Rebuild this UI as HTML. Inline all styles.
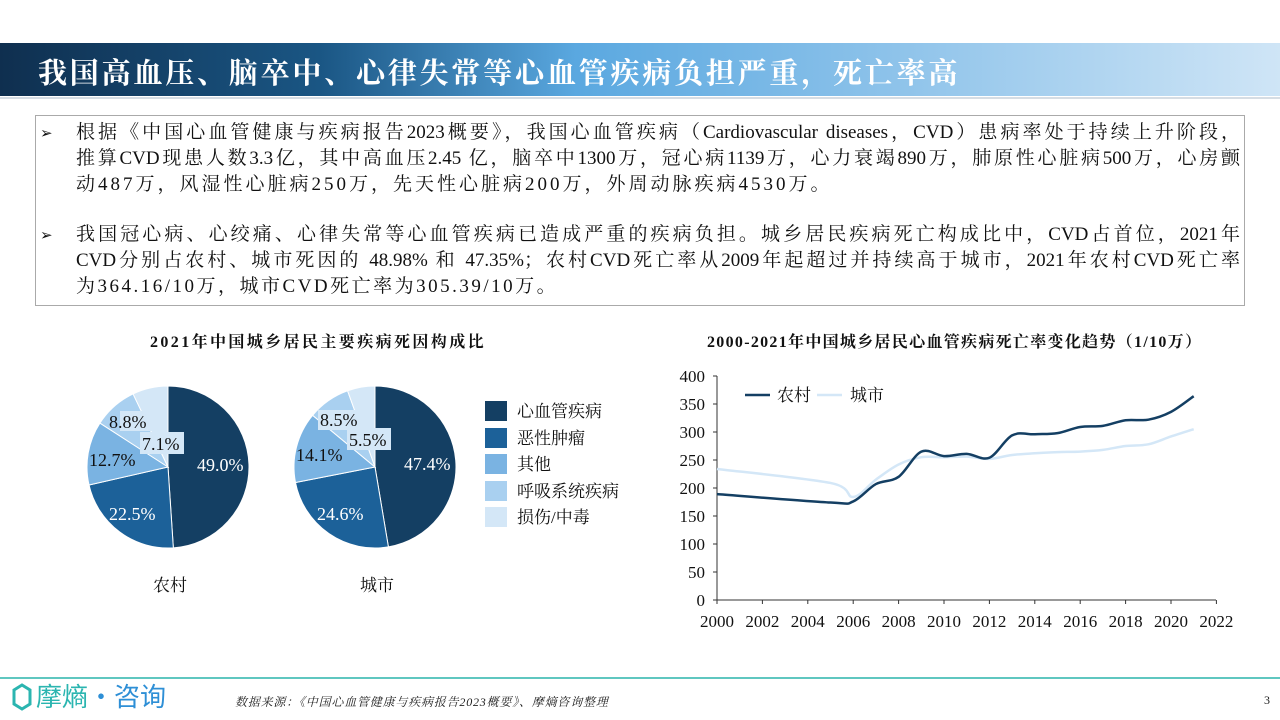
<!DOCTYPE html>
<html lang="zh"><head><meta charset="utf-8">
<style>
body{margin:0;width:1280px;height:720px;overflow:hidden;background:#fff;position:relative;font-family:"Liberation Serif","Noto Serif CJK SC",serif;}
.band{position:absolute;left:0;top:43px;width:1280px;height:53px;background:linear-gradient(90deg,#0f2f4f 0%,#1a5684 25%,#5aa8e0 45%,#8ec3ea 70%,#cfe5f6 100%);}
.band div{position:absolute;left:38px;top:8px;color:#fff;font-size:29px;font-weight:bold;font-family:"Noto Serif CJK SC","Noto Sans CJK SC",serif;letter-spacing:2.8px;}
.bline{position:absolute;left:0;top:97px;width:1280px;height:2px;background:#d6dde4;}
.box{position:absolute;left:35px;top:115px;width:1208px;height:189px;border:1px solid #aaa;}
.p{position:absolute;left:40px;width:1200px;font-size:19px;line-height:26px;color:#111;}
.p span.ar{position:absolute;left:0;top:0;font-size:15px;font-family:"DejaVu Sans",sans-serif;}
.p .l{margin-left:36px;width:1164px;text-align:justify;text-align-last:justify;text-justify:inter-character;white-space:nowrap;}
.p .l.last{text-align-last:left;}
.ct{position:absolute;font-size:16px;font-weight:bold;color:#111;white-space:nowrap;}
.foot{position:absolute;left:0;top:677px;width:1280px;height:2px;background:#5fc7c0;}
</style></head><body>
<div class="band"><div>我国高血压、脑卒中、心律失常等心血管疾病负担严重，死亡率高</div></div>
<div class="bline"></div>
<div class="box"></div>
<div class="p" style="top:120px"><span class="ar">➢</span>
<div class="l">根据《中国心血管健康与疾病报告2023概要》，我国心血管疾病（Cardiovascular diseases，CVD）患病率处于持续上升阶段，</div>
<div class="l">推算CVD现患人数3.3亿，其中高血压2.45 亿，脑卒中1300万，冠心病1139万，心力衰竭890万，肺原性心脏病500万，心房颤</div>
<div class="l last" style="letter-spacing:3px">动487万，风湿性心脏病250万，先天性心脏病200万，外周动脉疾病4530万。</div></div>
<div class="p" style="top:222px"><span class="ar">➢</span>
<div class="l">我国冠心病、心绞痛、心律失常等心血管疾病已造成严重的疾病负担。城乡居民疾病死亡构成比中，CVD占首位，2021年</div>
<div class="l">CVD分别占农村、城市死因的 48.98% 和 47.35%；农村CVD死亡率从2009年起超过并持续高于城市，2021年农村CVD死亡率</div>
<div class="l last" style="letter-spacing:2.5px">为364.16/10万，城市CVD死亡率为305.39/10万。</div></div>

<div class="ct" style="left:150px;top:329px;letter-spacing:2.4px">2021年中国城乡居民主要疾病死因构成比</div>
<div class="ct" style="left:707px;top:329px;letter-spacing:1.3px">2000-2021年中国城乡居民心血管疾病死亡率变化趋势（1/10万）</div>

<svg width="1280" height="720" style="position:absolute;left:0;top:0" font-family="Liberation Serif, Noto Serif CJK SC, serif">
<g id="pies"></g>
<g font-size="18">
<rect x="120" y="411" width="32" height="20" fill="#d4e7f7"/>
<text x="109" y="428" fill="#111">8.8%</text>
<rect x="140" y="432" width="44" height="22" fill="#d4e7f7"/>
<text x="142" y="450" fill="#111">7.1%</text>
<text x="89" y="466" fill="#111">12.7%</text>
<text x="197" y="471" fill="#fff">49.0%</text>
<text x="109" y="520" fill="#fff">22.5%</text>
<rect x="318" y="410" width="44" height="20" fill="#d4e7f7"/>
<text x="320" y="426" fill="#111">8.5%</text>
<rect x="347" y="428" width="44" height="22" fill="#d4e7f7"/>
<text x="349" y="446" fill="#111">5.5%</text>
<text x="296" y="461" fill="#111">14.1%</text>
<text x="404" y="470" fill="#fff">47.4%</text>
<text x="317" y="520" fill="#fff">24.6%</text>
<text x="153" y="591" font-size="17" fill="#111">农村</text>
<text x="360" y="591" font-size="17" fill="#111">城市</text>
</g>
<g font-size="17" fill="#111">
<rect x="485" y="401" width="22" height="20" fill="#143f63"/><text x="517" y="417">心血管疾病</text>
<rect x="485" y="428" width="22" height="20" fill="#1c6199"/><text x="517" y="444">恶性肿瘤</text>
<rect x="485" y="454" width="22" height="20" fill="#7ab3e2"/><text x="517" y="470">其他</text>
<rect x="485" y="481" width="22" height="20" fill="#a9d0f0"/><text x="517" y="497">呼吸系统疾病</text>
<rect x="485" y="507" width="22" height="20" fill="#d4e7f7"/><text x="517" y="523">损伤/中毒</text>
</g>
<g id="axes" stroke="#333" stroke-width="1"></g>
<g font-size="17" fill="#111" text-anchor="end">
<text x="705" y="382">400</text><text x="705" y="410">350</text><text x="705" y="438">300</text><text x="705" y="466">250</text><text x="705" y="494">200</text><text x="705" y="522">150</text><text x="705" y="550">100</text><text x="705" y="578">50</text><text x="705" y="606">0</text>
</g>
<g id="xl" font-size="17" fill="#111" text-anchor="middle"></g>
<g id="lines" fill="none"></g>
<line x1="745" y1="395" x2="770" y2="395" stroke="#143f63" stroke-width="2.5"/>
<text x="777" y="401" font-size="17" fill="#111">农村</text>
<line x1="817" y1="395" x2="842" y2="395" stroke="#d4e7f7" stroke-width="2.5"/>
<text x="850" y="401" font-size="17" fill="#111">城市</text>
<g>
<path d="M14 690 l8 -5 l8 5 v14 l-8 5 l-8 -5z" fill="none" stroke="#2bb5b0" stroke-width="3"/>
<text x="36" y="706" font-size="26" font-family="Noto Sans CJK SC, sans-serif" fill="#2bb5b0">摩熵</text>
<text x="88" y="706" font-size="26" font-family="Noto Sans CJK SC, sans-serif" fill="#2e8fd6">·咨询</text>
</g>
<text x="235" y="706" font-size="12" font-style="italic" fill="#222" letter-spacing="0.8">数据来源：《中国心血管健康与疾病报告2023概要》、摩熵咨询整理</text>
<text x="1264" y="704" font-size="12" fill="#222">3</text>
</svg>
<div class="foot"></div>
<script>
var NS="http://www.w3.org/2000/svg";
function el(p,t,a){var e=document.createElementNS(NS,t);for(var k in a)e.setAttribute(k,a[k]);p.appendChild(e);return e;}
var cols=["#143f63","#1c6199","#7ab3e2","#a9d0f0","#d4e7f7"];
function pie(cx,cy,r,v){var g=document.getElementById("pies");var tot=v.reduce((a,b)=>a+b,0);var a0=0;
v.forEach(function(x,i){var a1=a0+x/tot*2*Math.PI;var x0=cx+r*Math.sin(a0),y0=cy-r*Math.cos(a0),x1=cx+r*Math.sin(a1),y1=cy-r*Math.cos(a1);
el(g,"path",{d:"M"+cx+" "+cy+"L"+x0+" "+y0+"A"+r+" "+r+" 0 "+((a1-a0)>Math.PI?1:0)+" 1 "+x1+" "+y1+"Z",fill:cols[i],stroke:"#fff","stroke-width":1});a0=a1;});}
pie(168,467,81,[49.0,22.5,12.7,8.8,7.1]);
pie(375,467,81,[47.4,24.6,14.1,8.5,5.5]);
var ax=document.getElementById("axes");
var X=y=>717+(y-2000)*22.7, Y=v=>600-v*0.56;
el(ax,"line",{x1:717,y1:376,x2:717,y2:600});
el(ax,"line",{x1:717,y1:600,x2:1216,y2:600});
for(var v=0;v<=400;v+=50)el(ax,"line",{x1:713,y1:Y(v),x2:717,y2:Y(v)});
var xl=document.getElementById("xl");
for(var yr=2000;yr<=2022;yr+=2){el(ax,"line",{x1:X(yr),y1:600,x2:X(yr),y2:604});var t=el(xl,"text",{x:X(yr),y:627});t.textContent=yr;}
function smooth(pts){var d="M"+pts[0][0]+" "+pts[0][1];for(var i=0;i<pts.length-1;i++){var p0=pts[Math.max(i-1,0)],p1=pts[i],p2=pts[i+1],p3=pts[Math.min(i+2,pts.length-1)];
d+="C"+(p1[0]+(p2[0]-p0[0])/6)+" "+(p1[1]+(p2[1]-p0[1])/6)+" "+(p2[0]-(p3[0]-p1[0])/6)+" "+(p2[1]-(p3[1]-p1[1])/6)+" "+p2[0]+" "+p2[1];}return d;}
var rural=[[2000,189],[2005,174],[2006,176],[2007,207],[2008,220],[2009,265],[2010,257],[2011,261],[2012,254],[2013,294],[2014,296],[2015,298],[2016,309],[2017,311],[2018,321],[2019,322],[2020,336],[2021,364]];
var urban=[[2000,234],[2005,209],[2006,184],[2007,215],[2008,242],[2009,255],[2010,255],[2011,256],[2012,252],[2013,259],[2014,262],[2015,264],[2016,265],[2017,268],[2018,275],[2019,278],[2020,292],[2021,305]];
var lg=document.getElementById("lines");
el(lg,"path",{d:smooth(urban.map(p=>[X(p[0]),Y(p[1])])),stroke:"#d4e7f7","stroke-width":2.5});
el(lg,"path",{d:smooth(rural.map(p=>[X(p[0]),Y(p[1])])),stroke:"#143f63","stroke-width":2.5});
</script>
</body></html>
